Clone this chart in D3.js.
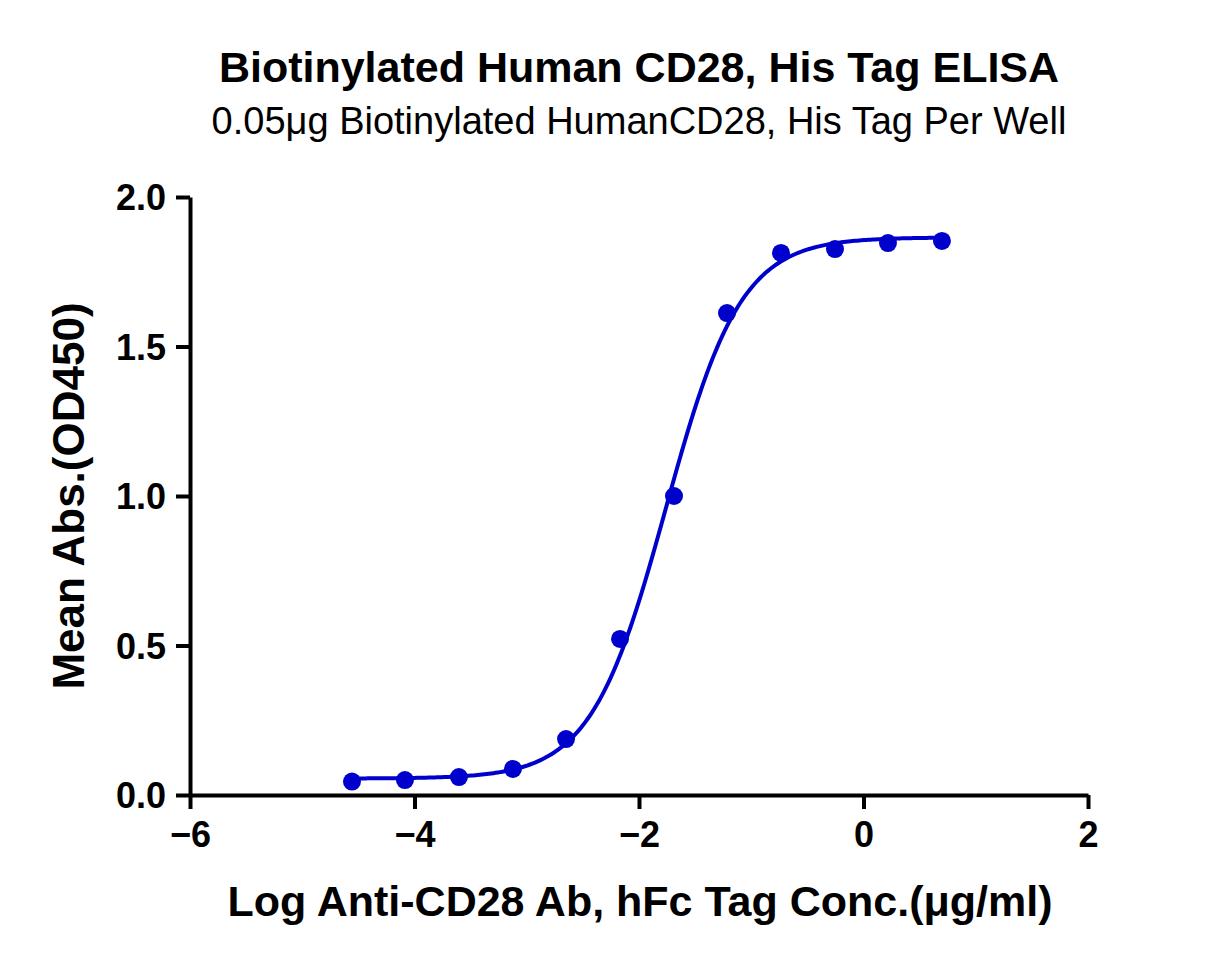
<!DOCTYPE html>
<html><head><meta charset="utf-8">
<script src="https://cdn.jsdelivr.net/npm/d3@7"></script>
<style>body{margin:0;background:#fff}</style>
</head><body><div id="chart"></div>
<script>
// 測定点 (log conc, OD450)
var logConc = [-4.557, -4.085, -3.604, -3.123, -2.650, -2.169, -1.688, -1.216, -0.735, -0.254, 0.218, 0.699];
var meanAbs = [0.045, 0.050, 0.060, 0.087, 0.187, 0.522, 1.000, 1.612, 1.813, 1.826, 1.846, 1.853];
// 4PL fit parameters
var fitBottom = 0.055, fitTop = 1.865, fitLogEC50 = -1.76, fitHill = 1.3;
var xTicks = [-6, -4, -2, 0, 2];
var yTicks = [0, 0.5, 1.0, 1.5, 2.0];

var svg = d3.select("#chart").append("svg").attr("width", 1214).attr("height", 969)
    .style("font-family", "Liberation Sans, Arial, sans-serif");

var x = d3.scaleLinear().domain([-6, 2]).range([190, 1088]);
var y = d3.scaleLinear().domain([0, 2]).range([795, 197]);

svg.append("text").attr("x", 639).attr("y", 82).attr("text-anchor", "middle")
    .style("font-size", "43px").attr("font-weight", "bold").text("Biotinylated Human CD28, His Tag ELISA");
svg.append("text").attr("x", 639).attr("y", 134).attr("text-anchor", "middle")
    .style("font-size", "38px").text("0.05μg Biotinylated HumanCD28, His Tag Per Well");

var xAxis = svg.append("g").attr("transform", "translate(0,795)")
    .call(d3.axisBottom(x).tickValues(xTicks).tickSize(14).tickSizeOuter(0).tickFormat(d3.format("d")));
var yAxis = svg.append("g").attr("transform", "translate(190,0)")
    .call(d3.axisLeft(y).tickValues(yTicks).tickSize(14).tickSizeOuter(0).tickFormat(d3.format(".1f")));
[xAxis, yAxis].forEach(function(g) {
    g.selectAll("path,line").attr("stroke", "#000").attr("stroke-width", 4);
    g.selectAll("text").style("font-size", "36px").attr("font-weight", "bold").attr("fill", "#000")
        .style("font-family", "Liberation Sans, Arial, sans-serif");
});
xAxis.selectAll("text").attr("y", 26).attr("dy", "0.71em");
yAxis.selectAll("text").attr("x", -24).attr("dy", "0.35em");

svg.append("text").attr("x", 640).attr("y", 916).attr("text-anchor", "middle")
    .style("font-size", "43px").attr("font-weight", "bold").text("Log Anti-CD28 Ab, hFc Tag Conc.(μg/ml)");
svg.append("text").attr("transform", "translate(84,496) rotate(-90)").attr("text-anchor", "middle")
    .style("font-size", "44px").attr("font-weight", "bold").text("Mean Abs.(OD450)");

var xs = d3.range(-4.557, 0.70, 0.02);
var line = d3.line().x(function(d) { return x(d); })
    .y(function(d) { return y(fitBottom + (fitTop - fitBottom) / (1 + Math.pow(10, (fitLogEC50 - d) * fitHill))); });
svg.append("path").datum(xs).attr("d", line).attr("fill", "none")
    .attr("stroke", "#0000CC").attr("stroke-width", 4);

svg.selectAll("circle.pt").data(logConc).enter().append("circle")
    .attr("cx", function(d) { return x(d); })
    .attr("cy", function(d, i) { return y(meanAbs[i]); })
    .attr("r", 9).attr("fill", "#0000CC");
</script></body></html>
